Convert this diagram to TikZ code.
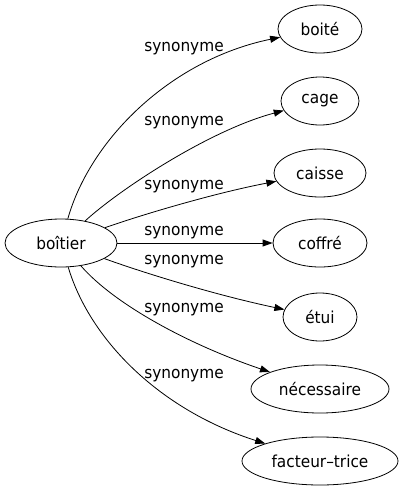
\documentclass[tikz,border=0pt]{standalone}
\usepackage{fontspec}
\setmainfont{DejaVu Sans}[FakeStretch=0.93]
\usetikzlibrary{shapes.geometric,arrows.meta}
\tikzset{
  word/.style={ellipse, draw, line width=0.8pt, minimum height=48pt, inner sep=1pt},
  rel/.style={-{Triangle[length=10pt,width=7pt]}, line width=0.8pt},
  lbl/.style={inner sep=0pt}
}
\begin{document}
\fontsize{16.5}{18}\selectfont
\begin{tikzpicture}[x=1pt,y=-1pt]
\useasboundingbox (0,0) rectangle (403,491);
\node (B)[word,minimum width=112pt] at (61,243) {boîtier};
\node (W1)[word,minimum width=84pt] at (320,29) {boité};
\node (W2)[word,minimum width=78pt] at (320,101) {cage};
\node (W3)[word,minimum width=92pt] at (320,173) {caisse};
\node (W4)[word,minimum width=94pt] at (320,243) {coffré};
\node (W5)[word,minimum width=74pt] at (320,317) {étui};
\node (W6)[word,minimum width=138pt] at (320,389) {nécessaire};
\node (W7)[word,minimum width=156pt] at (320,461) {facteur–trice};
% labels
\node (L1)[lbl] at (184,49) {synonyme};
\node (L2)[lbl] at (184,123) {synonyme};
\node (L3)[lbl] at (184,187) {synonyme};
\node (L4)[lbl] at (184,233) {synonyme};
\node (L5)[lbl] at (184,262) {synonyme};
\node (L6)[lbl] at (184,310) {synonyme};
\node (L7)[lbl] at (184,376) {synonyme};
% edges
\draw[rel] (B) .. controls (90,140) and (170,60) .. (W1);
\draw[rel] (B) .. controls (120,189) and (210,130) .. (W2);
\draw[rel] (B) .. controls (150,212) and (220,192) .. (W3);
\draw[rel] (B) -- (W4);
\draw[rel] (B) .. controls (150,275) and (220,296) .. (W5);
\draw[rel] (B) .. controls (115,305) and (190,345) .. (W6);
\draw[rel] (B) .. controls (90,340) and (160,410) .. (W7);
\end{tikzpicture}
\end{document}
